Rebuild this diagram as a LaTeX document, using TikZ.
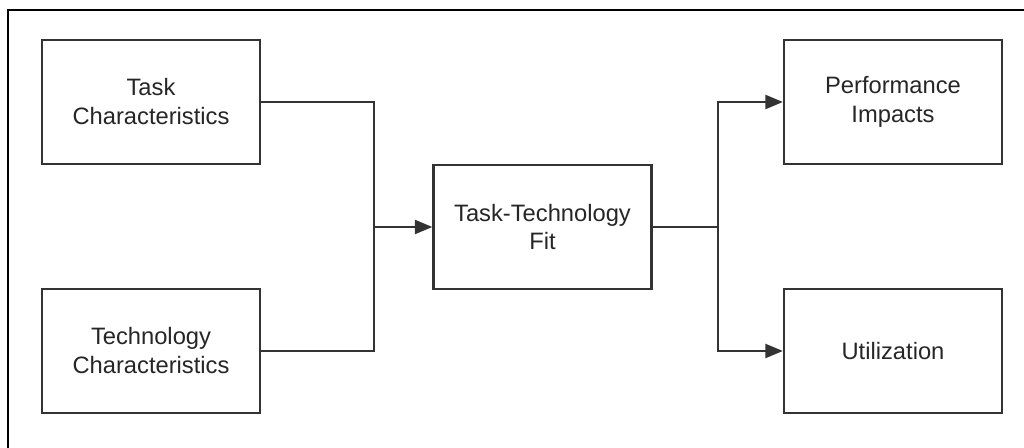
\documentclass[tikz,border=0pt]{standalone}
\usepackage{fontspec}
\setmainfont{Liberation Sans}
\usetikzlibrary{arrows.meta}
\begin{document}
\begin{tikzpicture}[x=0.02cm,y=-0.02cm,
  box/.style={draw=black!80,line width=1.3pt,fill=white,minimum width=218*0.02cm,minimum height=124*0.02cm,
    align=center,inner sep=0pt,font=\fontsize{13.5}{16.5}\selectfont,text=black!85},
  link/.style={draw=black!80,line width=1.3pt},
  arr/.style={link,-{Triangle[length=10pt,width=8pt]}},
  frame/.style={draw=black,line width=1.3pt}]
\useasboundingbox (0,0) rectangle (1024,448);
\coordinate (ftop) at (1024,10);
\coordinate (fcorner) at (8,10);
\coordinate (fbot) at (8,448);
\draw[frame] (ftop) -- (fcorner) -- (fbot);
\node[box] (tc) at (151,102) {Task\\Characteristics};
\node[box] (tech) at (151,351) {Technology\\Characteristics};
\node[box] (ttf) at (542.5,227) {Task-Technology\\Fit};
\node[box] (pi) at (893,102) {Performance\\Impacts};
\node[box] (ut) at (893,351) {Utilization};
\coordinate (jl) at (374,227);
\coordinate (jr) at (718,227);
\draw[link] (tc.east) -| (jl);
\draw[link] (tech.east) -| (jl);
\draw[arr] (jl) -- (ttf.west);
\draw[link] (ttf.east) -- (jr);
\draw[arr] (jr) |- (pi.west);
\draw[arr] (jr) |- (ut.west);
\end{tikzpicture}
\end{document}
